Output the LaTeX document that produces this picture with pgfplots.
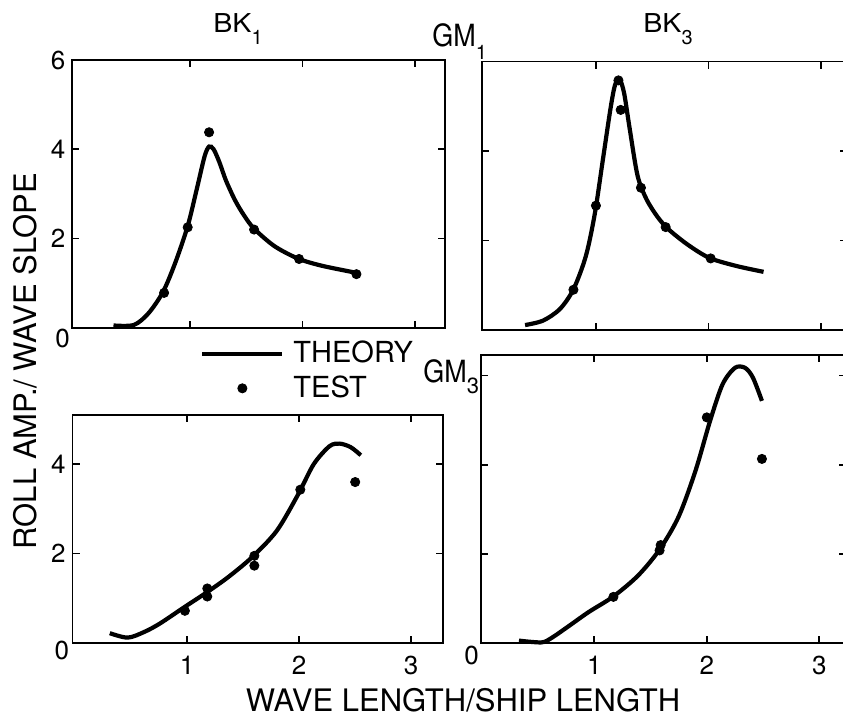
\documentclass[border=0pt]{standalone}
\usepackage{fontspec}
\setmainfont{TeX Gyre Heros}
\usepackage{pgfplots}
\pgfplotsset{compat=1.18}
\pgfplotsset{
  panel/.style={
    scale only axis, anchor=south west, ymin=0,
    axis line style={line width=0.9pt},
    tick align=inside, major tick length=3.5pt,
    every tick/.style={line width=0.9pt, black},
    xtick={1,2,3},
    tick label style={font=\fontsize{13}{13}\selectfont},
    xticklabel style={yshift=-3pt},
    /pgf/number format/assume math mode=true,
    clip=false,
  },
  theory/.style={black, line width=2.1pt, smooth, no marks},
  test/.style={black, only marks, mark=*, mark size=2.3pt},
  theoryleg/.style={legend image code/.code={\draw[##1] (0pt,0pt) -- (40pt,0pt);}},
  testleg/.style={legend image code/.code={\draw[mark repeat=2,mark phase=2,##1] plot coordinates {(0pt,0pt) (20pt,0pt) (40pt,0pt)};}},
}
\newcommand{\zero}{\fontsize{13}{13}\selectfont 0}
\begin{document}
\begin{tikzpicture}
\useasboundingbox (0pt,0pt) rectangle (421.5pt,358.5pt);
% top-left: BK1, GM1
\begin{axis}[panel, at={(36.15pt,194.65pt)}, width=186.5pt, height=133.85pt,
  xmin=-0.046, xmax=3.27, ymax=6, ytick={0,2,4,6}, yticklabels={,2,4,6}, xticklabels={}]
\addplot[theory] coordinates {(0.32,0.05) (0.5,0.06) (0.63,0.32) (0.76,0.8) (0.87,1.46) (0.98,2.28) (1.06,3.1) (1.13,3.84) (1.17,4.06) (1.21,4.0) (1.26,3.72) (1.32,3.3) (1.4,2.86) (1.48,2.52) (1.57,2.22) (1.75,1.83) (1.96,1.55) (2.17,1.39) (2.48,1.23)};
\addplot[test] coordinates {(0.77,0.78) (0.98,2.25) (1.17,4.38) (1.57,2.2) (1.97,1.54) (2.48,1.2)};
\node[xshift=-4.8pt, yshift=-5.15pt] at (rel axis cs:0,0) {\zero};
\end{axis}
% top-right: BK3, GM1
\begin{axis}[panel, at={(241pt,193.5pt)}, width=182.4pt, height=134.2pt,
  xmin=-0.013, xmax=3.23, ymax=6, ytick={2,4}, yticklabels={}, xticklabels={}]
\addplot[theory] coordinates {(0.37,0.11) (0.53,0.21) (0.68,0.47) (0.8,0.91) (0.91,1.65) (0.99,2.6) (1.06,3.78) (1.13,4.96) (1.17,5.48) (1.21,5.6) (1.25,5.3) (1.3,4.5) (1.37,3.45) (1.45,2.92) (1.55,2.52) (1.65,2.24) (1.82,1.9) (2.01,1.61) (2.25,1.43) (2.49,1.3)};
\addplot[test] coordinates {(0.8,0.9) (1.0,2.78) (1.2,5.58) (1.22,4.92) (1.4,3.18) (1.62,2.3) (2.02,1.6)};
\end{axis}
% bottom-left: BK1, GM3
\begin{axis}[panel, at={(36.3pt,37pt)}, width=185pt, height=114pt,
  xmin=-0.022, xmax=3.28, ymax=5.1, ytick={0,2,4}, yticklabels={,2,4},
  legend style={at={(rel axis cs:0.344,1.193)}, anchor=west, draw=none, fill=none,
    inner sep=0pt, font=\fontsize{14.5}{14.5}\selectfont, row sep=1pt,
    nodes={inner sep=2pt}, /tikz/every odd column/.append style={column sep=2.5pt}},
  legend cell align=left]
\addplot[theory, theoryleg] coordinates {(0.31,0.22) (0.47,0.12) (0.62,0.25) (0.76,0.44) (0.98,0.81) (1.18,1.14) (1.37,1.48) (1.58,1.92) (1.8,2.51) (1.99,3.32) (2.13,4.0) (2.27,4.4) (2.36,4.46) (2.46,4.38) (2.55,4.2)};
\addlegendentry{THEORY}
\addplot[test, testleg] coordinates {(0.98,0.72) (1.18,1.22) (1.18,1.04) (1.6,1.95) (1.6,1.73) (2.01,3.43) (2.5,3.6)};
\addlegendentry{TEST}
\node[xshift=-5.4pt, yshift=-3.5pt] at (rel axis cs:0,0) {\zero};
\end{axis}
% bottom-right: BK3, GM3
\begin{axis}[panel, at={(240.35pt,36.85pt)}, width=182.8pt, height=144.2pt,
  xmin=-0.01, xmax=3.24, ymax=6.46, ytick={2,4,6}, yticklabels={}]
\addplot[theory] coordinates {(0.33,0.06) (0.53,0.02) (0.62,0.12) (0.77,0.38) (0.95,0.7) (1.17,1.05) (1.39,1.52) (1.58,2.1) (1.75,2.84) (1.9,3.87) (2.03,4.99) (2.14,5.8) (2.25,6.17) (2.34,6.17) (2.41,5.95) (2.49,5.43)};
\addplot[test] coordinates {(1.17,1.04) (1.58,2.08) (1.59,2.2) (2.0,5.06) (2.49,4.13)};
\node[xshift=-4.5pt, yshift=-5.85pt] at (rel axis cs:0,0) {\zero};
\end{axis}
% titles and labels
\node[font=\fontsize{13}{13}\selectfont, anchor=base west, inner sep=0pt] at (106.5pt,342pt) {\scalebox{1.1}[1]{BK}\raisebox{-0.45em}{\fontsize{10}{10}\selectfont 1}};
\node[font=\fontsize{15.3}{15.3}\selectfont, anchor=base west, inner sep=0pt] at (216pt,335pt) {\scalebox{0.88}[1]{GM}\raisebox{-0.4em}{\fontsize{10}{10}\selectfont 1}};
\node[font=\fontsize{13}{13}\selectfont, anchor=base west, inner sep=0pt] at (321.5pt,342pt) {\scalebox{1.1}[1]{BK}\raisebox{-0.45em}{\fontsize{10}{10}\selectfont 3}};
\node[font=\fontsize{15.3}{15.3}\selectfont, anchor=base west, inner sep=0pt] at (211.5pt,167pt) {\scalebox{0.88}[1]{GM}\raisebox{-0.35em}{\fontsize{11}{11}\selectfont 3}};
\node[rotate=90, font=\fontsize{15.5}{15.5}\selectfont] at (12.75pt,178pt) {ROLL AMP./ WAVE SLOPE};
\node[font=\fontsize{15.5}{15.5}\selectfont] at (231.5pt,8.5pt) {WAVE LENGTH/SHIP LENGTH};
\end{tikzpicture}
\end{document}
